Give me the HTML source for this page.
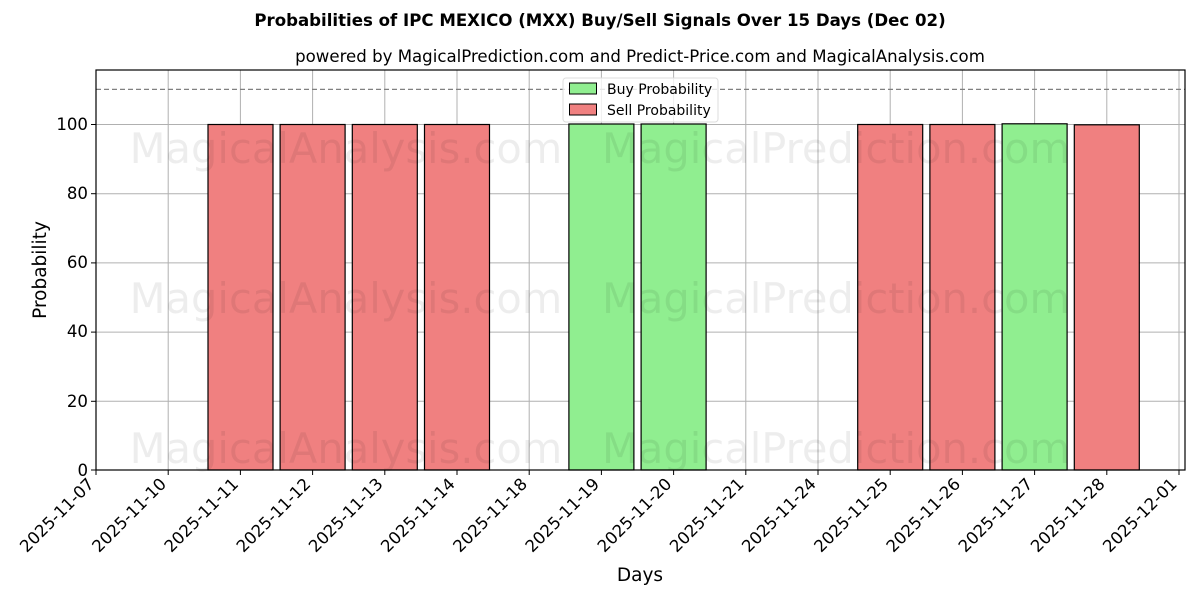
<!DOCTYPE html>
<html><head><meta charset="utf-8"><style>
html,body{margin:0;padding:0;background:#fff;}
svg text{font-family:"DejaVu Sans","Liberation Sans",sans-serif;}
</style></head><body>
<svg width="1200" height="600" xmlns="http://www.w3.org/2000/svg">
<rect width="1200" height="600" fill="#fff"/>
<text x="600" y="26" text-anchor="middle" font-size="16.6" font-weight="bold">Probabilities of IPC MEXICO (MXX) Buy/Sell Signals Over 15 Days (Dec 02)</text>
<text x="640" y="62" text-anchor="middle" font-size="16.6">powered by MagicalPrediction.com and Predict-Price.com and MagicalAnalysis.com</text>
<g id="grid" stroke="#b0b0b0" stroke-width="1">
<line x1="168.2" y1="70" x2="168.2" y2="470"/><line x1="240.4" y1="70" x2="240.4" y2="470"/><line x1="312.6" y1="70" x2="312.6" y2="470"/><line x1="384.8" y1="70" x2="384.8" y2="470"/><line x1="457" y1="70" x2="457" y2="470"/><line x1="529.2" y1="70" x2="529.2" y2="470"/><line x1="601.4" y1="70" x2="601.4" y2="470"/><line x1="673.6" y1="70" x2="673.6" y2="470"/><line x1="745.8" y1="70" x2="745.8" y2="470"/><line x1="818" y1="70" x2="818" y2="470"/><line x1="890.2" y1="70" x2="890.2" y2="470"/><line x1="962.4" y1="70" x2="962.4" y2="470"/><line x1="1034.6" y1="70" x2="1034.6" y2="470"/><line x1="1106.8" y1="70" x2="1106.8" y2="470"/><line x1="1179" y1="70" x2="1179" y2="470"/>
<line x1="96" y1="124.5" x2="1185" y2="124.5"/><line x1="96" y1="193.7" x2="1185" y2="193.7"/><line x1="96" y1="262.9" x2="1185" y2="262.9"/><line x1="96" y1="332.1" x2="1185" y2="332.1"/><line x1="96" y1="401.3" x2="1185" y2="401.3"/>
</g>
<g stroke="#000" stroke-width="1.2">
<rect x="208" y="124.5" width="65" height="345.5" fill="#f08080"/>
<rect x="280.1" y="124.5" width="65" height="345.5" fill="#f08080"/>
<rect x="352.3" y="124.5" width="65" height="345.5" fill="#f08080"/>
<rect x="424.5" y="124.5" width="65" height="345.5" fill="#f08080"/>
<rect x="568.9" y="124" width="65" height="346" fill="#90ee90"/>
<rect x="641.1" y="124" width="65" height="346" fill="#90ee90"/>
<rect x="857.7" y="124.5" width="65" height="345.5" fill="#f08080"/>
<rect x="929.9" y="124.5" width="65" height="345.5" fill="#f08080"/>
<rect x="1002.1" y="123.8" width="65" height="346.2" fill="#90ee90"/>
<rect x="1074.3" y="124.8" width="65" height="345.2" fill="#f08080"/>
</g>
<g font-size="41.6" fill="#000" fill-opacity="0.07">
<text x="346" y="163" text-anchor="middle">MagicalAnalysis.com</text>
<text x="836" y="163" text-anchor="middle">MagicalPrediction.com</text>
<text x="346" y="313" text-anchor="middle">MagicalAnalysis.com</text>
<text x="836" y="313" text-anchor="middle">MagicalPrediction.com</text>
<text x="346" y="463" text-anchor="middle">MagicalAnalysis.com</text>
<text x="836" y="463" text-anchor="middle">MagicalPrediction.com</text>
</g>
<line x1="96" y1="89.4" x2="1185" y2="89.4" stroke="#808080" stroke-width="1.2" stroke-dasharray="5,3"/>
<rect x="96" y="70" width="1089" height="400" fill="none" stroke="#000" stroke-width="1.2"/>
<g stroke="#000" stroke-width="1">
<line x1="91" y1="124.5" x2="96" y2="124.5"/><line x1="91" y1="193.7" x2="96" y2="193.7"/><line x1="91" y1="262.9" x2="96" y2="262.9"/><line x1="91" y1="332.1" x2="96" y2="332.1"/><line x1="91" y1="401.3" x2="96" y2="401.3"/><line x1="91" y1="470" x2="96" y2="470"/>
</g>
<g font-size="16.6" text-anchor="end">
<text x="88" y="130">100</text><text x="88" y="199">80</text><text x="88" y="268">60</text><text x="88" y="337">40</text><text x="88" y="407">20</text><text x="88" y="476">0</text>
</g>
<text transform="translate(46,270) rotate(-90)" text-anchor="middle" font-size="18.5">Probability</text>
<text x="640" y="581" text-anchor="middle" font-size="18.5">Days</text>
<g id="xt" font-size="16.6" text-anchor="end">
</g>
<g stroke="#000" stroke-width="1" id="xticks"></g>
<rect x="563" y="78" width="155" height="44" fill="#fff" fill-opacity="0.8" stroke="#ddd" rx="3"/>
<rect x="569.5" y="83" width="27" height="11" fill="#90ee90" stroke="#000"/>
<rect x="569.5" y="104" width="27" height="11" fill="#f08080" stroke="#000"/>
<text x="607" y="94" font-size="14">Buy Probability</text>
<text x="607" y="115" font-size="14">Sell Probability</text>
<script>
var d=["2025-11-07","2025-11-10","2025-11-11","2025-11-12","2025-11-13","2025-11-14","2025-11-18","2025-11-19","2025-11-20","2025-11-21","2025-11-24","2025-11-25","2025-11-26","2025-11-27","2025-11-28","2025-12-01"];
var g=document.getElementById("xt"),t=document.getElementById("xticks"),ns="http://www.w3.org/2000/svg";
d.forEach(function(s,i){var x=96+72.2*i;
var l=document.createElementNS(ns,"line");l.setAttribute("x1",x);l.setAttribute("x2",x);l.setAttribute("y1",470);l.setAttribute("y2",475);t.appendChild(l);
var e=document.createElementNS(ns,"text");e.setAttribute("transform","translate("+(x-1)+",485) rotate(-45)");e.textContent=s;g.appendChild(e);});
</script>
</svg>
</body></html>
